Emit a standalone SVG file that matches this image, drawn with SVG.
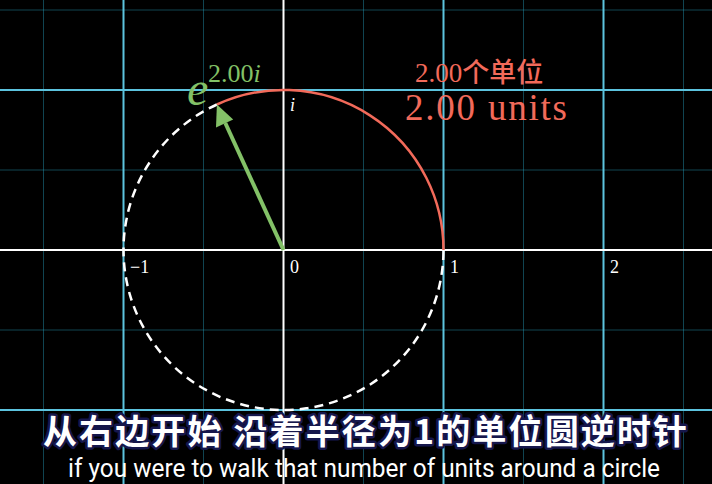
<svg xmlns="http://www.w3.org/2000/svg" width="712" height="484" viewBox="0 0 712 484">
<style>
.faint{stroke:#29ABCA;stroke-opacity:0.4;stroke-width:1}
.main{stroke:#5CC3DE;stroke-width:2}
.axis{stroke:#FFFFFF;stroke-width:2}
.num{font-family:"Liberation Serif",serif;font-size:18px;fill:#FFFFFF}
.red{fill:#F26A5A}
.green{fill:#83C167}
.sub{font-family:"Noto Sans CJK SC",sans-serif;font-weight:bold;font-size:34px;fill:#FFFFFF;stroke:#16174C;stroke-width:5;paint-order:stroke;stroke-linejoin:round}
.en{font-family:"Roboto","Liberation Sans",sans-serif;font-size:26px;fill:#FFFFFF}
</style>
<rect width="712" height="484" fill="#000000"/>
<g id="grid">
<line class="faint" x1="43.5" y1="0" x2="43.5" y2="484"/>
<line class="faint" x1="203.5" y1="0" x2="203.5" y2="484"/>
<line class="faint" x1="363.5" y1="0" x2="363.5" y2="484"/>
<line class="faint" x1="523.5" y1="0" x2="523.5" y2="484"/>
<line class="faint" x1="683.5" y1="0" x2="683.5" y2="484"/>
<line class="faint" x1="0" y1="10" x2="712" y2="10"/>
<line class="faint" x1="0" y1="170" x2="712" y2="170"/>
<line class="faint" x1="0" y1="330" x2="712" y2="330"/>
<line class="main" x1="123.5" y1="0" x2="123.5" y2="484"/>
<line class="main" x1="443.5" y1="0" x2="443.5" y2="484"/>
<line class="main" x1="603.5" y1="0" x2="603.5" y2="484"/>
<line class="main" x1="0" y1="90" x2="712" y2="90"/>
<line class="main" x1="0" y1="410" x2="712" y2="410"/>
<line class="axis" x1="0" y1="250" x2="712" y2="250"/>
<line class="axis" x1="283.5" y1="0" x2="283.5" y2="484"/>
</g>
<g id="axis-labels">
<text class="num" x="130" y="273">−1</text>
<text class="num" x="290" y="273">0</text>
<text class="num" x="450" y="273">1</text>
<text class="num" x="610" y="273">2</text>
<text class="num" x="290" y="111" font-style="italic" font-size="16">i</text>
</g>
<g id="connectors">
<path id="dashed-circle" d="M216.9,104.5 A160,160 0 1 0 443.5,250" fill="none" stroke="#FFFFFF" stroke-width="2.5" stroke-dasharray="9 6"/>
<path id="red-arc" d="M443.5,250 A160,160 0 0 0 216.9,104.5" fill="none" stroke="#F26A5A" stroke-width="2.5"/>
<line id="arrow-shaft" x1="283.5" y1="250" x2="225.3" y2="123" stroke="#83C167" stroke-width="4"/>
<polygon id="arrow-head" points="216.9,104.5 216,127.5 233.2,119.6" fill="#83C167"/>
</g>
<g id="exp-label">
<text x="187" y="105" font-family="Liberation Serif,serif" font-style="italic" font-size="48" class="green">e</text>
<text x="208" y="82" font-family="Liberation Serif,serif" font-size="26" class="green">2.00<tspan font-style="italic">i</tspan></text>
</g>
<g id="length-label">
<text x="415" y="82" font-family="Liberation Serif,'Noto Sans CJK SC',serif" font-size="27" class="red">2.00<tspan font-family="Noto Sans CJK SC,sans-serif" font-weight="500" font-size="27">个单位</tspan></text>
<text x="405" y="120" font-family="Liberation Serif,serif" font-size="37" class="red" textLength="162" lengthAdjust="spacing">2.00 units</text>
</g>
<g id="subtitles">
<text class="sub" x="365" y="444" text-anchor="middle" textLength="644" lengthAdjust="spacing">从右边开始 沿着半径为1的单位圆逆时针</text>
<text class="en" x="364" y="477" text-anchor="middle" textLength="592" lengthAdjust="spacingAndGlyphs">if you were to walk that number of units around a circle</text>
</g>
</svg>
